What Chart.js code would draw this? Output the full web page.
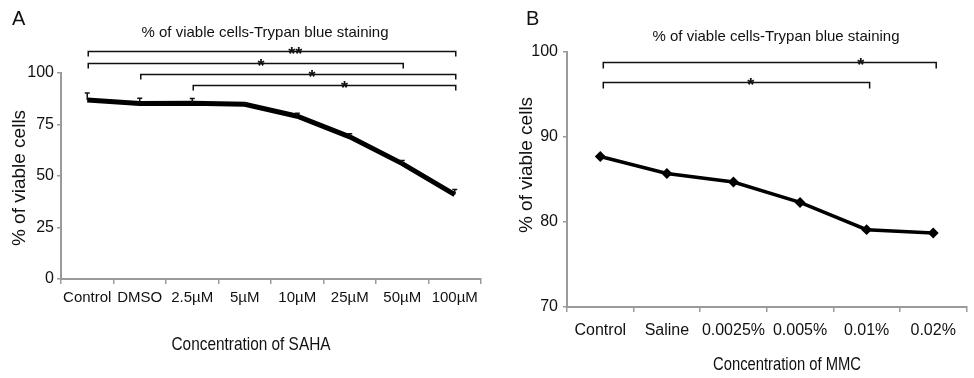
<!DOCTYPE html>
<html lang="en">
<head>
<meta charset="UTF-8">
<title>Viable cells - Trypan blue staining</title>
<script src="https://cdn.jsdelivr.net/npm/chart.js"></script>
<style>
  body { margin: 0; padding: 0; background: #fff; }
  .wrap { position: relative; width: 974px; height: 378px; }
  #chartA { position: absolute; left: 0; top: 0; }
  #chartB { position: absolute; left: 490px; top: 0; }
</style>
</head>
<body>
<div class="wrap">
  <canvas id="chartA" width="490" height="378"></canvas>
  <canvas id="chartB" width="484" height="378"></canvas>
</div>
<script>
// panel A - SAHA
const sahaLabels = ['Control', 'DMSO', '2.5µM', '5µM', '10µM', '25µM', '50µM', '100µM'];
const sahaViable = [86.9, 85.2, 85.3, 84.8, 79, 69, 56, 41];
const sahaError = [3.4, 2.6, 2.3, 0.5, 1.5, 1.5, 1.5, 2.5];
const sahaTicks = [0, 25, 50, 75, 100];
const sahaPairs = [[0, 7, '**'], [0, 6, '*'], [1, 7, '*'], [2, 7, '*']];

// panel B - MMC
const mmcLabels = ['Control', 'Saline', '0.0025%', '0.005%', '0.01%', '0.02%'];
const mmcViable = [87.7, 85.7, 84.7, 82.3, 79.1, 78.7];
const mmcTicks = [70, 80, 90, 100];
const mmcPairs = [[0, 5, '*'], [0, 4, '*']];

const titleText = '% of viable cells-Trypan blue staining';
const yTitleText = '% of viable cells';

const SANS = '"Liberation Sans", Arial, sans-serif';
const NARROW = '"Liberation Sans Narrow", "Arial Narrow", "Liberation Sans", Arial, sans-serif';
const AXIS = '#9a9a9a';
const INK = '#111';

// titles, panel letter, axis titles
const figureText = {
  id: 'figureText',
  afterDraw(chart, args, o) {
    const ctx = chart.ctx;
    ctx.save();
    ctx.fillStyle = INK;
    ctx.textBaseline = 'middle';
    ctx.textAlign = 'left';
    ctx.font = '20px ' + SANS;
    ctx.fillText(o.panel, o.panelX, o.panelY);
    ctx.textAlign = 'center';
    ctx.font = '15px ' + SANS;
    ctx.fillText(titleText, o.titleX, o.titleY);
    ctx.save();
    ctx.translate(o.yTitleX, o.yTitleY);
    ctx.rotate(-Math.PI / 2);
    ctx.font = '19px ' + SANS;
    ctx.fillText(yTitleText, 0, 0);
    ctx.restore();
    ctx.font = '19px ' + NARROW;
    ctx.fillText(o.xTitle, o.xTitleX, o.xTitleY, o.xTitleW);
    ctx.restore();
  }
};

// significance brackets + one-sided error bars
const marks = {
  id: 'marks',
  afterDatasetsDraw(chart, args, o) {
    const ctx = chart.ctx, xs = chart.scales.x, ys = chart.scales.y;
    ctx.save();
    ctx.strokeStyle = INK;
    ctx.fillStyle = INK;
    if (o.errors) {
      const meta = chart.getDatasetMeta(0);
      const vals = chart.data.datasets[0].data;
      ctx.lineWidth = 1.5;
      o.errors.forEach((e, i) => {
        const px = meta.data[i].x;
        const y0 = ys.getPixelForValue(vals[i]);
        const y1 = ys.getPixelForValue(vals[i] + e);
        ctx.beginPath();
        ctx.moveTo(px, y0); ctx.lineTo(px, y1);
        ctx.moveTo(px - 2.5, y1); ctx.lineTo(px + 2.5, y1);
        ctx.stroke();
      });
    }
    ctx.lineWidth = 1.5;
    ctx.textAlign = 'center';
    ctx.textBaseline = 'alphabetic';
    ctx.font = 'bold 18px ' + SANS;
    o.pairs.forEach((p, k) => {
      const x0 = xs.getPixelForValue(p[0]) + o.shift;
      const x1 = xs.getPixelForValue(p[1]) + o.shift;
      const yy = Math.round(ys.getPixelForValue(o.levels[k])) + 0.5;
      ctx.beginPath();
      ctx.moveTo(x0, yy + o.leg); ctx.lineTo(x0, yy);
      ctx.lineTo(x1, yy); ctx.lineTo(x1, yy + o.leg);
      ctx.stroke();
      ctx.fillText(p[2], xs.getPixelForValue(o.starAt[k]), yy + 8);
    });
    ctx.restore();
  }
};

function makeChart(id, labels, values, ticks, cfg) {
  return new Chart(document.getElementById(id), {
    type: 'line',
    data: {
      labels: labels,
      datasets: [{
        data: values,
        borderColor: '#000',
        backgroundColor: '#000',
        borderWidth: cfg.lineWidth,
        pointRadius: cfg.pointRadius,
        pointStyle: 'rectRot',
        tension: 0
      }]
    },
    options: {
      responsive: false,
      animation: false,
      layout: { padding: { top: cfg.top, right: cfg.right, left: 0, bottom: 0 } },
      plugins: {
        legend: { display: false },
        title: { display: false },
        tooltip: { enabled: false },
        figureText: cfg.text,
        marks: cfg.marks
      },
      scales: {
        x: {
          offset: true,
          grid: { offset: true, drawOnChartArea: false, drawTicks: true, tickLength: 5, color: AXIS, lineWidth: 1.5 },
          border: { display: true, color: AXIS, width: 2 },
          ticks: { color: INK, font: { size: cfg.xFont, family: SANS }, padding: cfg.xPad, autoSkip: false, maxRotation: 0 },
          afterFit: s => { s.height = cfg.xHeight; }
        },
        y: {
          min: ticks[0],
          max: ticks[ticks.length - 1],
          grid: { drawOnChartArea: false, drawTicks: true, tickLength: 4, color: AXIS, lineWidth: 1.5 },
          border: { display: true, color: AXIS, width: 2 },
          ticks: { stepSize: ticks[1] - ticks[0], color: INK, font: { size: 16, family: SANS }, padding: cfg.yPad },
          afterFit: s => { s.width = cfg.yWidth; }
        }
      }
    },
    plugins: [figureText, marks]
  });
}

makeChart('chartA', sahaLabels, sahaViable, sahaTicks, {
  lineWidth: 5, pointRadius: 0, top: 73, right: 9, xHeight: 99, yWidth: 61,
  xFont: 15, xPad: 5, yPad: 3,
  text: { panel: 'A', panelX: 12, panelY: 19, titleX: 265, titleY: 33,
          yTitleX: 20, yTitleY: 178, xTitle: 'Concentration of SAHA', xTitleX: 251, xTitleY: 345, xTitleW: 159 },
  marks: { pairs: sahaPairs, errors: sahaError, levels: [110.7, 104.9, 99.5, 94.2],
           starAt: [3.96, 3.31, 4.28, 4.9], leg: 5, shift: 1 }
});

makeChart('chartB', mmcLabels, mmcViable, mmcTicks, {
  lineWidth: 3.5, pointRadius: 3, top: 52, right: 3, xHeight: 71, yWidth: 77,
  xFont: 16, xPad: 9, yPad: 5,
  text: { panel: 'B', panelX: 36, panelY: 19, titleX: 286, titleY: 37,
          yTitleX: 37, yTitleY: 165, xTitle: 'Concentration of MMC', xTitleX: 297, xTitleY: 365, xTitleW: 148 },
  marks: { pairs: mmcPairs, levels: [98.8, 96.45], starAt: [3.91, 2.26], leg: 6, shift: 3 }
});
</script>
</body>
</html>
